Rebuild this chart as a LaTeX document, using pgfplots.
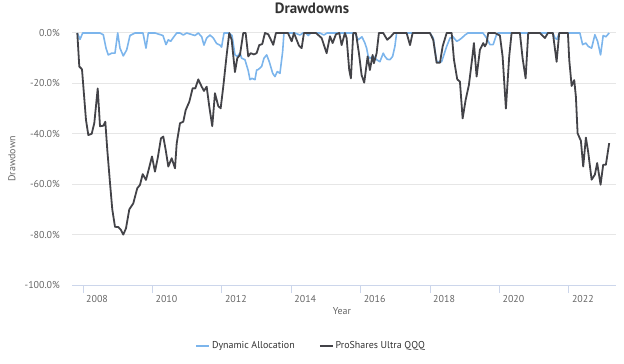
\documentclass[border=0pt]{standalone}
\usepackage{pgfplots}
\usepackage{pgfplotstable}
\pgfplotsset{compat=1.18}
\usepackage{fontspec}
\setmainfont{PT Sans}
\definecolor{daBlue}{HTML}{7CB5EC}
\definecolor{qqqBlack}{HTML}{434348}
\definecolor{gridc}{HTML}{E6E6E6}
\definecolor{axisc}{HTML}{CCD6EB}
\definecolor{labc}{HTML}{666666}
\definecolor{titc}{HTML}{333333}

\pgfplotstableread{
x y
2007.836 0
2007.914 -2.5
2007.991 0
2008.202 0
2008.490 0
2008.585 -0.7
2008.663 -6
2008.729 -8.7
2008.827 -8
2008.922 -8
2009.000 0
2009.066 -6
2009.161 -9.1
2009.259 -6.7
2009.354 -1
2009.498 0
2009.729 0
2009.815 -6
2009.882 0
2010.075 0
2010.305 -1
2010.392 -4.6
2010.458 -2.7
2010.527 -3.3
2010.602 -1.8
2010.700 0
2010.795 0
2010.890 -0.8
2010.988 0
2011.227 -1
2011.322 0
2011.420 -1.5
2011.486 -4.8
2011.564 -2
2011.660 -0.8
2011.755 -2
2011.852 -4.2
2011.947 -4.8
2011.994 -5.6
2012.063 0
2012.207 0
2012.294 -1
2012.379 -8.7
2012.446 -9.3
2012.523 -8
2012.572 -10
2012.667 -10.6
2012.762 -15
2012.812 -18.5
2012.869 -18
2012.956 -18.5
2013.004 -14.7
2013.050 -14.5
2013.148 -13.3
2013.215 -10
2013.293 -8.7
2013.368 -11.4
2013.466 -16
2013.532 -17.3
2013.598 -15.3
2013.676 -16
2013.753 -7.4
2013.791 0
2014.108 0
2014.252 -0.8
2014.338 0
2014.424 0
2014.491 -1
2014.568 0
2014.828 0
2014.943 -0.8
2015.030 0
2015.404 0
2015.836 0
2015.931 -2.7
2016.038 -1.5
2016.124 -4
2016.173 -6
2016.219 -9.3
2016.268 -10
2016.363 -9.3
2016.461 -10.6
2016.556 -11.4
2016.652 -8
2016.700 -9.3
2016.767 -10.4
2016.845 -10.6
2016.922 -9.3
2016.988 -5.3
2017.037 0
2017.998 0
2018.093 -2
2018.191 -11.4
2018.335 -11.4
2018.480 -5.3
2018.576 -2
2018.663 -1.5
2018.769 -3.3
2018.836 -2.8
2018.914 -2
2019.009 -0.8
2019.092 0
2019.525 0
2019.631 -2
2019.726 -4.6
2019.821 -4.6
2019.899 -1.3
2019.957 0
2021.167 0
2021.541 0
2021.599 -2
2021.657 -2.5
2021.723 0
2022.319 0
2022.397 -4.6
2022.492 -4
2022.559 -5.3
2022.657 -6
2022.751 -0.7
2022.829 -3.3
2022.915 -8.7
2022.990 -1
2023.068 -1.5
2023.163 0
}\dyn

\pgfplotstableread{
x y
2007.836 0
2007.893 -13.3
2007.971 -14.4
2008.086 -34.5
2008.153 -40.5
2008.251 -40
2008.326 -35.7
2008.424 -22
2008.490 -37
2008.585 -36.8
2008.643 -35.2
2008.700 -46.4
2008.778 -59.5
2008.844 -70
2008.922 -76.9
2009.017 -77
2009.086 -78
2009.161 -80
2009.239 -77.5
2009.334 -70
2009.449 -67.6
2009.564 -61.6
2009.642 -60.3
2009.720 -56
2009.815 -58.3
2009.902 -53.7
2009.988 -49
2010.074 -55
2010.152 -49.7
2010.247 -41.8
2010.313 -41.1
2010.383 -46.4
2010.458 -53
2010.556 -49.7
2010.651 -53.7
2010.700 -43.8
2010.795 -35.8
2010.890 -35.2
2010.959 -30.6
2011.063 -27.3
2011.161 -21.9
2011.236 -22
2011.322 -18.4
2011.420 -21.3
2011.486 -23
2011.564 -21.3
2011.639 -29.2
2011.725 -37
2011.803 -23.9
2011.898 -29
2011.967 -29.9
2012.042 -21.3
2012.140 -8.7
2012.215 0
2012.284 -2.7
2012.379 -15.5
2012.446 -10
2012.523 -8.7
2012.618 0
2012.687 0
2012.762 -9.3
2012.830 -8
2012.926 -8.5
2013.003 -8
2013.079 -4.8
2013.166 -4.4
2013.243 0
2013.339 -0.5
2013.483 -4.7
2013.560 0
2013.733 0
2013.906 0
2014.013 -3.3
2014.079 0
2014.223 -5
2014.301 -6
2014.367 0
2014.540 0
2014.713 0
2014.877 -2
2015.021 -8
2015.117 -1.3
2015.194 -4
2015.289 -0.5
2015.384 0
2015.453 -4.8
2015.548 0
2015.597 -2
2015.672 -14.7
2015.721 -18
2015.787 0
2015.865 0
2015.951 -8
2016.029 -16.7
2016.104 -19.7
2016.202 -9.3
2016.268 -14.7
2016.346 -8.7
2016.383 -12
2016.461 -8
2016.527 0
2016.652 0
2016.767 -2.7
2016.865 -1.5
2016.960 0
2017.133 0
2017.326 0
2017.424 -4.8
2017.499 0
2017.710 0
2017.998 0
2018.093 -2.7
2018.191 -11.8
2018.287 -11.8
2018.364 -5.3
2018.480 0
2018.624 0
2018.690 -10.6
2018.785 -18.4
2018.862 -19.3
2018.940 -33.9
2019.026 -26.6
2019.121 -20.6
2019.216 -10
2019.265 -4
2019.343 -17.3
2019.438 -6.7
2019.533 -4
2019.582 -5.3
2019.631 -4
2019.677 0
2019.870 0
2020.014 -1
2020.092 -9.3
2020.187 -30
2020.282 -9.3
2020.351 0
2020.495 0
2020.590 0
2020.668 -10
2020.755 -18
2020.830 0
2021.023 0
2021.167 0
2021.311 -2
2021.398 0
2021.541 0
2021.648 -11.4
2021.723 0
2021.887 0
2021.974 0
2022.012 -10.6
2022.081 -21
2022.156 -18.7
2022.204 -25.3
2022.253 -39.8
2022.348 -42.8
2022.415 -53
2022.492 -41.5
2022.559 -47.3
2022.657 -58.2
2022.751 -56.2
2022.817 -51.6
2022.915 -60.2
2022.990 -52.3
2023.068 -52.3
2023.163 -43.7
}\qqq

\begin{document}
\begin{tikzpicture}[x=1bp,y=1bp]
\path[use as bounding box] (0,0) rectangle (624,363);
\begin{axis}[
  at={(72bp,78bp)}, anchor=south west,
  width=544bp, height=252bp, scale only axis,
  xmin=2007.683, xmax=2023.36, ymin=-100, ymax=0,
  axis x line*=bottom, axis y line*=left,
  y axis line style={draw=none},
  x axis line style={axisc, line width=1bp},
  ytick={-100,-80,-60,-40,-20,0},
  yticklabels={-100.0\%,-80.0\%,-60.0\%,-40.0\%,-20.0\%,0.0\%},
  xtick={2008,2010,2012,2014,2016,2018,2020,2022},
  xticklabels={2008,2010,2012,2014,2016,2018,2020,2022},
  ytick style={draw=none},
  xtick style={axisc, line width=1bp},
  tick align=outside, major tick length=8bp,
  ymajorgrids, grid style={gridc, line width=1bp},
  yticklabel style={font=\fontsize{10}{11}\selectfont, text=labc, inner sep=0pt, anchor=east, xshift=-4bp},
  xticklabel style={font=\fontsize{10}{11}\selectfont, text=labc, inner sep=0pt, anchor=north west, xshift=3bp, yshift=-2bp},
  legend columns=2,
  legend style={at={(axis description cs:0.2261,-0.241)}, anchor=west, draw=none, fill=none, inner sep=0pt,
     font=\fontsize{10}{11}\selectfont, text=titc,
     /tikz/every even column/.append style={column sep=22bp}},
  legend image code/.code={\draw[#1, line width=2bp] (0bp,0bp) -- (13bp,0bp);},
  clip=false,
]
\addplot[daBlue, line width=1.6bp, line join=round] table[x=x,y=y] {\dyn};
\addlegendentry{Dynamic Allocation}
\addplot[qqqBlack, line width=1.8bp, line join=round] table[x=x,y=y] {\qqq};
\addlegendentry{ProShares Ultra QQQ}
\end{axis}
\node[font=\bfseries\fontsize{15}{17}\selectfont, text=titc, anchor=base, inner sep=0pt] at (312,350) {Drawdowns};
\node[font=\fontsize{10}{11}\selectfont, text=labc, rotate=90] at (12,204) {Drawdown};
\node[font=\fontsize{10}{11}\selectfont, text=labc] at (342,52) {Year};
\end{tikzpicture}
\end{document}
